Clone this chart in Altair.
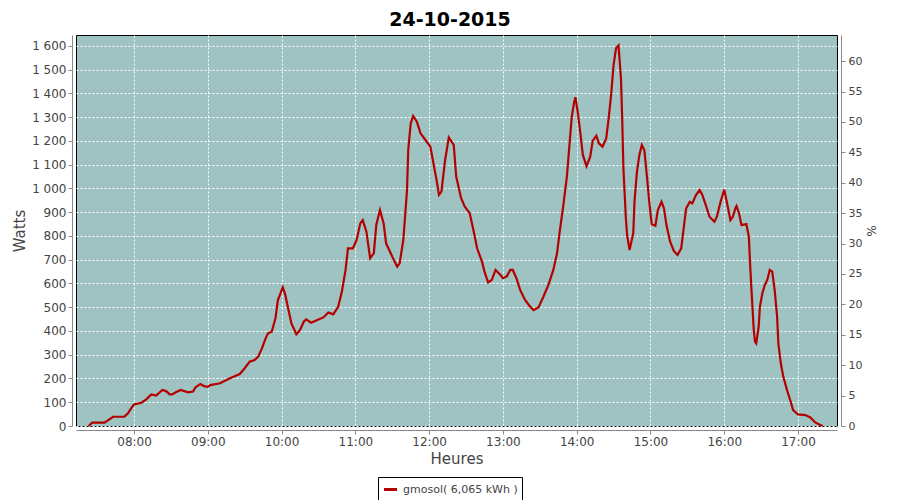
import altair as alt
import pandas as pd

times = ["07:23","07:26","07:36","07:39","07:43","07:52","07:55","07:58","08:00","08:06",
         "08:10","08:14","08:18","08:23","08:26","08:29","08:31","08:34","08:38","08:44",
         "08:48","08:50","08:54","08:57","09:00","09:02","09:10","09:18","09:26","09:30",
         "09:34","09:38","09:41","09:44","09:47","09:49","09:52","09:55","09:57","10:01",
         "10:03","10:05","10:08","10:12","10:15","10:18","10:20","10:24","10:29","10:34",
         "10:38","10:42","10:46","10:49","10:52","10:54","10:58","11:01","11:04","11:06",
         "11:09","11:12","11:15","11:17","11:20","11:23","11:25","11:30","11:34","11:36",
         "11:39","11:42","11:43","11:45","11:47","11:50","11:53","11:57","12:01","12:03",
         "12:06","12:08","12:10","12:13","12:16","12:20","12:22","12:26","12:29","12:33",
         "12:36","12:39","12:43","12:45","12:48","12:51","12:54","12:58","13:00","13:03",
         "13:06","13:08","13:11","13:14","13:18","13:22","13:25","13:29","13:33","13:37",
         "13:41","13:44","13:46","13:49","13:52","13:54","13:56","13:58","13:59","14:01",
         "14:03","14:05","14:08","14:11","14:13","14:16","14:18","14:21","14:24","14:26",
         "14:28","14:30","14:32","14:34","14:36","14:37","14:38","14:40","14:41","14:43",
         "14:46","14:47","14:49","14:51","14:53","14:55","14:57","14:59","15:01","15:04",
         "15:06","15:09","15:11","15:13","15:16","15:19","15:22","15:25","15:27","15:29",
         "15:32","15:34","15:37","15:40","15:42","15:45","15:48","15:52","15:54","15:57",
         "16:00","16:03","16:05","16:07","16:09","16:10","16:12","16:14","16:18","16:20",
         "16:21","16:22","16:24","16:25","16:26","16:28","16:29","16:31","16:33","16:35",
         "16:37","16:39","16:41","16:43","16:44","16:46","16:48","16:51","16:54","16:56",
         "17:00","17:06","17:10","17:14","17:18","17:20"]

watts = [0,14,14,25,39,39,53,77,91,98,
         112,133,128,152,147,133,133,142,152,142,
         145,163,177,168,165,172,180,201,219,243,
         271,278,292,327,369,390,397,453,530,584,
         552,503,432,386,404,439,449,435,446,457,
         478,470,502,565,656,748,748,783,853,867,
         818,706,727,846,909,853,769,713,671,685,
         783,993,1162,1274,1305,1281,1232,1204,1176,1120,
         1036,973,987,1120,1215,1183,1050,959,923,896,
         825,748,692,650,604,615,657,636,622,629,
         657,657,622,573,531,503,488,500,545,594,
         657,727,811,924,1049,1176,1302,1365,1384,1316,
         1232,1141,1094,1134,1200,1222,1190,1176,1211,1295,
         1394,1520,1590,1602,1464,1295,1085,874,804,741,
         811,944,1071,1141,1183,1162,1057,944,849,843,
         909,944,916,846,776,737,720,748,832,916,
         944,937,972,993,975,930,881,860,881,944,
         995,920,867,881,916,926,895,846,850,797,
         685,587,404,355,348,418,502,559,594,615,
         657,650,573,460,348,264,208,152,103,67,
         49,46,36,15,4,1]

series_name = "gmosol( 6,065 kWh )"
hour_ticks = ["08:00","09:00","10:00","11:00","12:00","13:00","14:00","15:00","16:00","17:00"]
watt_ticks = list(range(0, 1601, 100))
pct_ticks = list(range(0, 61, 5))

def to_min(s):
    h, m = s.split(":")
    return int(h) * 60 + int(m)

df = pd.DataFrame({"t": [to_min(s) for s in times], "w": watts, "serie": series_name})
df_pct = pd.DataFrame({"t": [to_min("12:00")], "p": [0]})

X_DOMAIN = [432.8, 1051.7]
W_DOMAIN = [0, 1646]
P_DOMAIN = [0, 64.3]

x_enc = alt.X(
    "t:Q",
    scale=alt.Scale(domain=X_DOMAIN, nice=False, zero=False),
    axis=alt.Axis(
        values=[to_min(s) for s in hour_ticks],
        labelExpr="(datum.value < 600 ? '0' : '') + floor(datum.value/60) + ':00'",
        title="Heures",
        grid=True, gridColor="white", gridDash=[2, 2], gridOpacity=1,
        offset=4, labelPadding=2, titlePadding=4,
    ),
)

line = alt.Chart(df).mark_line(strokeWidth=2.2).encode(
    x=x_enc,
    y=alt.Y(
        "w:Q",
        scale=alt.Scale(domain=W_DOMAIN, nice=False),
        axis=alt.Axis(
            values=watt_ticks,
            labelExpr="replace(format(datum.value, ','), ',', ' ')",
            title="Watts",
            grid=True, gridColor="white", gridDash=[2, 2], gridOpacity=1,
            offset=4, labelPadding=2, titlePadding=4,
        ),
    ),
    color=alt.Color(
        "serie:N",
        scale=alt.Scale(range=["#b50000"]),
        legend=alt.Legend(
            title=None, orient="none", legendX=302, legendY=442,
            strokeColor="black", fillColor="white", padding=4, cornerRadius=0,
            symbolType="stroke", symbolStrokeWidth=3, symbolSize=170,
            labelFont="DejaVu Sans", labelFontSize=11, labelColor="#444444",
        ),
    ),
)

pct = alt.Chart(df_pct).mark_point(opacity=0).encode(
    x=x_enc,
    y=alt.Y(
        "p:Q",
        scale=alt.Scale(domain=P_DOMAIN, nice=False),
        axis=alt.Axis(
            orient="right", values=pct_ticks, title="%", grid=False,
            offset=4, labelPadding=3, titlePadding=2, titleFontSize=12,
            labelFontSize=11,
        ),
    ),
)

chart = alt.layer(line, pct).resolve_scale(y="independent").properties(
    width=761,
    height=391,
    background="white",
    autosize=alt.AutoSizeParams(type="none"),
    padding={"left": 68, "top": 27, "right": 55, "bottom": 74},
    title=alt.Title("24-10-2015", frame="group", anchor="middle", dx=-6.5,
                    font="DejaVu Sans", fontSize=19, fontWeight="bold",
                    color="black", offset=5),
).configure_view(
    fill="#9EC3C2", stroke="black", strokeWidth=1
).configure_axis(
    domainColor="#888888", tickColor="#888888", tickSize=4,
    labelFont="DejaVu Sans", labelFontSize=12, labelColor="#444444",
    titleFont="DejaVu Sans", titleFontSize=15, titleColor="#444444",
    titleFontWeight="normal",
)

chart.save("out.html", embed_options={"renderer": "svg", "actions": False})
